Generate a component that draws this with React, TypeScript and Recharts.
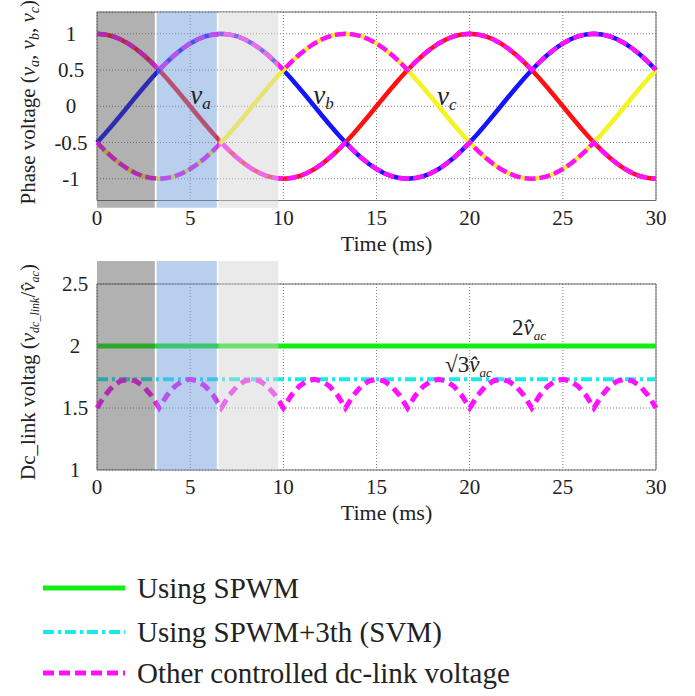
import React from 'react';
import {
  LineChart,
  Line,
  XAxis,
  YAxis,
  CartesianGrid,
  ReferenceArea,
  ReferenceLine,
  ReferenceDot,
} from 'recharts';

const FONT = '"Liberation Serif", "Times New Roman", serif';
const INK = '#222';

// time axis (ms), one sample every 7.5 electrical degrees
const time = [
  0, 0.417, 0.833, 1.25, 1.667, 2.083, 2.5, 2.917, 3.333, 3.75, 4.167, 4.583,
  5, 5.417, 5.833, 6.25, 6.667, 7.083, 7.5, 7.917, 8.333, 8.75, 9.167, 9.583,
  10, 10.417, 10.833, 11.25, 11.667, 12.083, 12.5, 12.917, 13.333, 13.75, 14.167, 14.583,
  15, 15.417, 15.833, 16.25, 16.667, 17.083, 17.5, 17.917, 18.333, 18.75, 19.167, 19.583,
  20, 20.417, 20.833, 21.25, 21.667, 22.083, 22.5, 22.917, 23.333, 23.75, 24.167, 24.583,
  25, 25.417, 25.833, 26.25, 26.667, 27.083, 27.5, 27.917, 28.333, 28.75, 29.167, 29.583,
  30,
];

// phase voltages (per unit)
const phaseA = [
  1, 0.991, 0.966, 0.924, 0.866, 0.793, 0.707, 0.609, 0.5, 0.383, 0.259, 0.131,
  0, -0.131, -0.259, -0.383, -0.5, -0.609, -0.707, -0.793, -0.866, -0.924, -0.966, -0.991,
  -1, -0.991, -0.966, -0.924, -0.866, -0.793, -0.707, -0.609, -0.5, -0.383, -0.259, -0.131,
  0, 0.131, 0.259, 0.383, 0.5, 0.609, 0.707, 0.793, 0.866, 0.924, 0.966, 0.991,
  1, 0.991, 0.966, 0.924, 0.866, 0.793, 0.707, 0.609, 0.5, 0.383, 0.259, 0.131,
  0, -0.131, -0.259, -0.383, -0.5, -0.609, -0.707, -0.793, -0.866, -0.924, -0.966, -0.991,
  -1,
];
const phaseB = [
  -0.5, -0.383, -0.259, -0.131, 0, 0.131, 0.259, 0.383, 0.5, 0.609, 0.707, 0.793,
  0.866, 0.924, 0.966, 0.991, 1, 0.991, 0.966, 0.924, 0.866, 0.793, 0.707, 0.609,
  0.5, 0.383, 0.259, 0.131, 0, -0.131, -0.259, -0.383, -0.5, -0.609, -0.707, -0.793,
  -0.866, -0.924, -0.966, -0.991, -1, -0.991, -0.966, -0.924, -0.866, -0.793, -0.707, -0.609,
  -0.5, -0.383, -0.259, -0.131, 0, 0.131, 0.259, 0.383, 0.5, 0.609, 0.707, 0.793,
  0.866, 0.924, 0.966, 0.991, 1, 0.991, 0.966, 0.924, 0.866, 0.793, 0.707, 0.609,
  0.5,
];
const phaseC = [
  -0.5, -0.609, -0.707, -0.793, -0.866, -0.924, -0.966, -0.991, -1, -0.991, -0.966, -0.924,
  -0.866, -0.793, -0.707, -0.609, -0.5, -0.383, -0.259, -0.131, 0, 0.131, 0.259, 0.383,
  0.5, 0.609, 0.707, 0.793, 0.866, 0.924, 0.966, 0.991, 1, 0.991, 0.966, 0.924,
  0.866, 0.793, 0.707, 0.609, 0.5, 0.383, 0.259, 0.131, 0, -0.131, -0.259, -0.383,
  -0.5, -0.609, -0.707, -0.793, -0.866, -0.924, -0.966, -0.991, -1, -0.991, -0.966, -0.924,
  -0.866, -0.793, -0.707, -0.609, -0.5, -0.383, -0.259, -0.131, 0, 0.131, 0.259, 0.383,
  0.5,
];

// upper / lower envelope of the three phases (magenta dashed)
const envUpper = [
  1, 0.991, 0.966, 0.924, 0.866, 0.793, 0.707, 0.609, 0.5, 0.609, 0.707, 0.793, 0.866, 0.924, 0.966, 0.991,
  1, 0.991, 0.966, 0.924, 0.866, 0.793, 0.707, 0.609, 0.5, 0.609, 0.707, 0.793, 0.866, 0.924, 0.966, 0.991,
  1, 0.991, 0.966, 0.924, 0.866, 0.793, 0.707, 0.609, 0.5, 0.609, 0.707, 0.793, 0.866, 0.924, 0.966, 0.991,
  1, 0.991, 0.966, 0.924, 0.866, 0.793, 0.707, 0.609, 0.5, 0.609, 0.707, 0.793, 0.866, 0.924, 0.966, 0.991,
  1, 0.991, 0.966, 0.924, 0.866, 0.793, 0.707, 0.609, 0.5,
];
const envLower = [
  -0.5, -0.609, -0.707, -0.793, -0.866, -0.924, -0.966, -0.991, -1, -0.991, -0.966, -0.924, -0.866, -0.793, -0.707, -0.609,
  -0.5, -0.609, -0.707, -0.793, -0.866, -0.924, -0.966, -0.991, -1, -0.991, -0.966, -0.924, -0.866, -0.793, -0.707, -0.609,
  -0.5, -0.609, -0.707, -0.793, -0.866, -0.924, -0.966, -0.991, -1, -0.991, -0.966, -0.924, -0.866, -0.793, -0.707, -0.609,
  -0.5, -0.609, -0.707, -0.793, -0.866, -0.924, -0.966, -0.991, -1, -0.991, -0.966, -0.924, -0.866, -0.793, -0.707, -0.609,
  -0.5, -0.609, -0.707, -0.793, -0.866, -0.924, -0.966, -0.991, -1,
];

// dc-link voltage (v_dc_link / v_ac peak)
const dcLink = [
  1.5, 1.6, 1.673, 1.717, 1.732, 1.717, 1.673, 1.6,
  1.5, 1.6, 1.673, 1.717, 1.732, 1.717, 1.673, 1.6,
  1.5, 1.6, 1.673, 1.717, 1.732, 1.717, 1.673, 1.6,
  1.5, 1.6, 1.673, 1.717, 1.732, 1.717, 1.673, 1.6,
  1.5, 1.6, 1.673, 1.717, 1.732, 1.717, 1.673, 1.6,
  1.5, 1.6, 1.673, 1.717, 1.732, 1.717, 1.673, 1.6,
  1.5, 1.6, 1.673, 1.717, 1.732, 1.717, 1.673, 1.6,
  1.5, 1.6, 1.673, 1.717, 1.732, 1.717, 1.673, 1.6,
  1.5, 1.6, 1.673, 1.717, 1.732, 1.717, 1.673, 1.6,
  1.5,
];
const spwmLevel = 2;
const svmLevel = 1.732;

const xTicks = [0, 5, 10, 15, 20, 25, 30];
const phaseTicks = [-1, -0.5, 0, 0.5, 1];
const dcTicks = [1, 1.5, 2, 2.5];

// shaded sectors in the first 10 ms
const sectorStart = [0, 3.2, 6.52];
const sectorEnd = [3.1, 6.43, 9.73];
const sectorFill = ['rgba(77,77,77,0.44)', 'rgba(107,155,220,0.48)', 'rgba(212,212,212,0.48)'];

const legendLabels = ['Using SPWM', 'Using SPWM+3th (SVM)', 'Other controlled dc-link voltage'];

const topData = time.map((t, i) => ({
  t,
  va: phaseA[i],
  vb: phaseB[i],
  vc: phaseC[i],
  up: envUpper[i],
  lo: envLower[i],
}));
const bottomData = time.map((t, i) => ({ t, dc: dcLink[i] }));

const GREEN = '#12ee12';
const CYAN = '#14ecec';
const MAGENTA = '#ff10ff';

const XTick = ({ x, y, payload }: any) => (
  <text x={x} y={y + 24} textAnchor="middle" fontFamily={FONT} fontSize={21} fill={INK}>
    {payload.value}
  </text>
);

const makeYTick = (shift: number) => ({ x, y, payload }: any) => (
  <text x={x - shift} y={y + 7} textAnchor="middle" fontFamily={FONT} fontSize={21} fill={INK}>
    {payload.value}
  </text>
);

const TimeTitle = ({ viewBox }: any) => (
  <text
    x={viewBox.x + viewBox.width / 2 + 10}
    y={viewBox.y + 50}
    textAnchor="middle"
    fontFamily={FONT}
    fontSize={22}
    fill={INK}
  >
    Time (ms)
  </text>
);

const PhaseTitle = ({ viewBox }: any) => {
  const cx = viewBox.x - 9;
  const cy = viewBox.y + viewBox.height / 2 - 4;
  return (
    <text
      transform={`translate(${cx},${cy}) rotate(-90)`}
      textAnchor="middle"
      dy={7}
      fontFamily={FONT}
      fontSize={21}
      fill={INK}
    >
      Phase voltage (<tspan fontStyle="italic">v</tspan>
      <tspan fontStyle="italic" fontSize={14} dy={4}>a</tspan>
      <tspan dy={-4}>, </tspan>
      <tspan fontStyle="italic">v</tspan>
      <tspan fontStyle="italic" fontSize={14} dy={4}>b</tspan>
      <tspan dy={-4}>, </tspan>
      <tspan fontStyle="italic">v</tspan>
      <tspan fontStyle="italic" fontSize={14} dy={4}>c</tspan>
      <tspan dy={-4}>)</tspan>
    </text>
  );
};

const DcTitle = ({ viewBox }: any) => {
  const cx = viewBox.x - 9;
  const cy = viewBox.y + viewBox.height / 2 - 5;
  return (
    <text
      transform={`translate(${cx},${cy}) rotate(-90)`}
      textAnchor="middle"
      dy={7}
      fontFamily={FONT}
      fontSize={21}
      fill={INK}
    >
      Dc_link voltag (<tspan fontStyle="italic">v</tspan>
      <tspan fontStyle="italic" fontSize={12} dy={4}>dc_link</tspan>
      <tspan dy={-4}>/</tspan>
      <tspan fontStyle="italic">{'v\u0302'}</tspan>
      <tspan fontStyle="italic" fontSize={12} dy={4}>ac</tspan>
      <tspan dy={-4}>)</tspan>
    </text>
  );
};

const phaseName = (sub: string) => (p: any) => (
  <text x={p.cx} y={p.cy} fontFamily={FONT} fill={INK}>
    <tspan fontStyle="italic" fontSize={27}>v</tspan>
    <tspan fontStyle="italic" fontSize={17} dy={5}>{sub}</tspan>
  </text>
);

const levelName = (prefix: string) => (p: any) => (
  <text x={p.cx} y={p.cy} fontFamily={FONT} fill={INK}>
    <tspan fontSize={23}>{prefix}</tspan>
    <tspan fontStyle="italic" fontSize={23}>{'v\u0302'}</tspan>
    <tspan fontStyle="italic" fontSize={13} dy={5}>ac</tspan>
  </text>
);

const axisCommon = {
  tickSize: 0,
  tickMargin: 0,
  tickLine: false,
  axisLine: false,
};

function PhasePlot() {
  return (
    <LineChart
      width={695}
      height={265}
      data={topData}
      margin={{ top: 12, right: 39, left: 37, bottom: 34.5 }}
    >
      <CartesianGrid stroke="#808080" strokeDasharray="1 2" />
      <XAxis
        dataKey="t"
        type="number"
        domain={[0, 30]}
        ticks={xTicks}
        tick={<XTick />}
        height={30}
        label={{ content: TimeTitle }}
        {...axisCommon}
      />
      <YAxis
        type="number"
        domain={[-1.3, 1.3]}
        ticks={phaseTicks}
        allowDataOverflow
        width={60}
        tick={makeYTick(26)}
        label={{ content: PhaseTitle }}
        {...axisCommon}
      />
      <ReferenceArea x1={0} x2={30} y1={-1.3} y2={1.3} fill="none" stroke="#6a6a6a" strokeWidth={1} />
      <Line dataKey="va" stroke="#ff1111" strokeWidth={4.5} dot={false} isAnimationActive={false} />
      <Line dataKey="vb" stroke="#1414ff" strokeWidth={4.5} dot={false} isAnimationActive={false} />
      <Line dataKey="vc" stroke="#f4f420" strokeWidth={4.5} dot={false} isAnimationActive={false} />
      <Line
        dataKey="up"
        stroke={MAGENTA}
        strokeWidth={4.5}
        strokeDasharray="11 4"
        dot={false}
        isAnimationActive={false}
      />
      <Line
        dataKey="lo"
        stroke={MAGENTA}
        strokeWidth={4.5}
        strokeDasharray="11 4"
        dot={false}
        isAnimationActive={false}
      />
      {sectorStart.map((s, i) => (
        <ReferenceArea
          key={`sec-${i}`}
          x1={s}
          x2={sectorEnd[i]}
          y1={-1.4}
          y2={1.3}
          fill={sectorFill[i]}
          fillOpacity={1}
          stroke="none"
          ifOverflow="visible"
          zIndex={1500}
        />
      ))}
      <ReferenceDot x={5} y={0.03} r={0} shape={phaseName('a')} zIndex={1600} />
      <ReferenceDot x={11.6} y={0.03} r={0} shape={phaseName('b')} zIndex={1600} />
      <ReferenceDot x={18.25} y={0.017} r={0} shape={phaseName('c')} zIndex={1600} />
    </LineChart>
  );
}

function DcPlot() {
  return (
    <LineChart
      width={695}
      height={275}
      data={bottomData}
      margin={{ top: 29, right: 39, left: 37, bottom: 30 }}
    >
      <CartesianGrid stroke="#808080" strokeDasharray="1 2" />
      <XAxis
        dataKey="t"
        type="number"
        domain={[0, 30]}
        ticks={xTicks}
        tick={<XTick />}
        height={30}
        label={{ content: TimeTitle }}
        {...axisCommon}
      />
      <YAxis
        type="number"
        domain={[1, 2.5]}
        ticks={dcTicks}
        allowDataOverflow
        width={60}
        tick={makeYTick(22)}
        label={{ content: DcTitle }}
        {...axisCommon}
      />
      <ReferenceArea x1={0} x2={30} y1={1} y2={2.5} fill="none" stroke="#6a6a6a" strokeWidth={1} />
      <ReferenceLine y={spwmLevel} stroke={GREEN} strokeWidth={5} />
      <ReferenceLine y={svmLevel} stroke={CYAN} strokeWidth={4} strokeDasharray="11 4 3 4" />
      <Line
        dataKey="dc"
        stroke={MAGENTA}
        strokeWidth={5}
        strokeDasharray="10 6"
        dot={false}
        isAnimationActive={false}
      />
      {sectorStart.map((s, i) => (
        <ReferenceArea
          key={`sec-${i}`}
          x1={s}
          x2={sectorEnd[i]}
          y1={1}
          y2={2.685}
          fill={sectorFill[i]}
          fillOpacity={1}
          stroke="none"
          ifOverflow="visible"
          zIndex={1500}
        />
      ))}
      <ReferenceDot x={22.27} y={2.089} r={0} shape={levelName('2')} zIndex={1600} />
      <ReferenceDot x={18.68} y={1.79} r={0} shape={levelName('\u221A3')} zIndex={1600} />
    </LineChart>
  );
}

function Legend() {
  const rows = [
    { y: 28, color: GREEN, dash: undefined, width: 5 },
    { y: 72, color: CYAN, dash: '11 4 3 4', width: 4 },
    { y: 113, color: MAGENTA, dash: '11 5', width: 5 },
  ];
  return (
    <svg width={695} height={136} style={{ position: 'absolute', left: 0, top: 560 }}>
      {rows.map((r, i) => (
        <g key={i}>
          <line x1={43} x2={125} y1={r.y} y2={r.y} stroke={r.color} strokeWidth={r.width} strokeDasharray={r.dash} />
          <text x={137} y={r.y + 10} fontFamily={FONT} fontSize={29} fill={INK}>
            {legendLabels[i]}
          </text>
        </g>
      ))}
    </svg>
  );
}

export default function App() {
  return (
    <div style={{ position: 'absolute', left: 0, top: 0, width: 695, height: 696, background: '#fff' }}>
      <div style={{ position: 'absolute', left: 0, top: 0 }}>
        <PhasePlot />
      </div>
      <div style={{ position: 'absolute', left: 0, top: 255 }}>
        <DcPlot />
      </div>
      <Legend />
    </div>
  );
}
